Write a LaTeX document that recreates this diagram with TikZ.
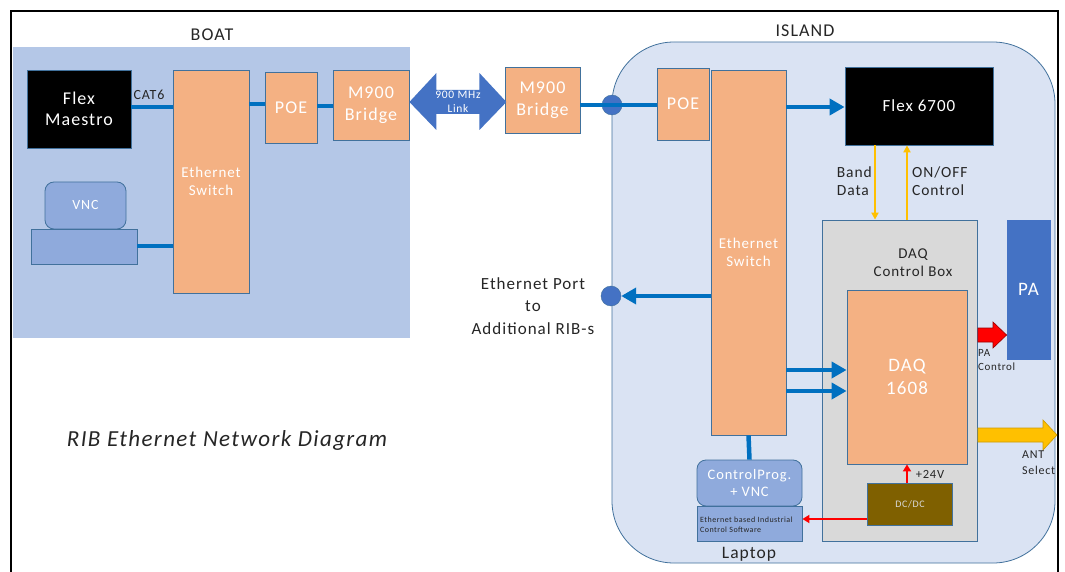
\documentclass[tikz,border=0pt]{standalone}
\usepackage{fontspec}
\setmainfont[LetterSpace=6]{Carlito}
\usetikzlibrary{arrows.meta,calc}
\definecolor{boatbg}{HTML}{B4C7E7}
\definecolor{islandbg}{HTML}{DAE3F3}
\definecolor{orng}{HTML}{F4B183}
\definecolor{edgeblue}{HTML}{41719C}
\definecolor{linkblue}{HTML}{0070C0}
\definecolor{lapblue}{HTML}{8FAADC}
\definecolor{pablue}{HTML}{4472C4}
\definecolor{gold}{HTML}{FFC000}
\definecolor{dcdc}{HTML}{7F6000}
\definecolor{graybox}{HTML}{D9D9D9}
\definecolor{txt}{HTML}{262626}
\newcommand{\fsz}[1]{\fontsize{#1}{1.2\dimexpr#1pt\relax}\selectfont}
\tikzset{
  box/.style={draw=edgeblue, line width=0.8pt, align=center, inner sep=0pt},
  orangebox/.style={box, fill=orng, text=white},
  blackbox/.style={box, fill=black, text=white},
  lapbox/.style={box, fill=lapblue},
  wire/.style={linkblue, line width=4.5pt},
  warrow/.style={wire, -{Triangle[length=15pt,width=16pt]}},
  yarrow/.style={gold, line width=2.2pt, -{Triangle[length=7pt,width=7pt]}},
  rarrow/.style={red, line width=2.2pt, -{Triangle[length=7pt,width=8pt]}},
  lbl/.style={text=txt, align=center, inner sep=0pt},
  dot/.style={circle, fill=pablue, draw=edgeblue, minimum size=20pt, inner sep=0pt},
}
\begin{document}
\begin{tikzpicture}[x=1pt,y=-1pt]
\useasboundingbox (0,0) rectangle (1065,572);
\fill[white] (0,0) rectangle (1065,572);
% regions
\fill[boatbg] (13,47) rectangle (410,338);
\draw[edgeblue, line width=0.8pt, fill=islandbg, rounded corners=62pt] (612,42) rectangle (1055,563);
\draw[line width=2.5pt] (11,575) -- (11,11) -- (1058,11) -- (1058,575);
\node[lbl, font=\fsz{18}] (boatlbl) at (212,35) {BOAT};
\node[lbl, font=\fsz{18}] (islandlbl) at (805,31) {ISLAND};

% boat nodes
\node[blackbox, minimum width=104pt, minimum height=78pt, font=\fsz{18}] (fm) at (79,109) {Flex\\[-1pt]Maestro};
\node[orangebox, minimum width=76pt, minimum height=223pt, font=\fsz{15}] (bsw) at (211,181.5) {Ethernet\\Switch};
\node[orangebox, minimum width=52pt, minimum height=71pt, font=\fsz{18}] (bpoe) at (291,107.5) {POE};
\node[orangebox, minimum width=76pt, minimum height=70pt, font=\fsz{18}] (bbr) at (371,105) {M900\\Bridge};
\node[lapbox, rounded corners=9pt, minimum width=81pt, minimum height=47pt, text=white, font=\fsz{14}] (vncm) at (85.5,205.5) {VNC};
\node[lapbox, minimum width=106pt, minimum height=35pt] (vncb) at (84,246.5) {};
\node[lbl, font=\fsz{14}] (cat6) at (149,95) {CAT6};
\draw[wire] (fm.east |- 0,107) -- (bsw.west |- 0,107);
\draw[wire] (bsw.east |- 0,104) -- (bpoe.west |- 0,104);
\draw[wire] (bpoe.east |- 0,106) -- (bbr.west |- 0,106);
\draw[wire] (vncb.east |- 0,246) -- (bsw.west |- 0,246);

% island nodes
\node[orangebox, minimum width=75pt, minimum height=66pt, font=\fsz{18}] (ibr) at (542.5,100) {M900\\Bridge};
\node[orangebox, minimum width=52pt, minimum height=72pt, font=\fsz{18}] (ipoe) at (683,104) {POE};
\node[orangebox, minimum width=75pt, minimum height=365pt, font=\fsz{15}] (isw) at (748.5,252.5) {Ethernet\\Switch};
\node[blackbox, minimum width=148pt, minimum height=78pt, font=\fsz{17}] (flex) at (919,106) {Flex 6700};
\node[box, fill=graybox, minimum width=155pt, minimum height=321pt] (daqbox) at (900,380.5) {};
\node[lbl, font=\fsz{15}] (daqlbl) at (913,263) {DAQ\\Control Box};
\node[orangebox, minimum width=120pt, minimum height=174pt, font=\fsz{19}] (daq) at (907,377) {DAQ\\1608};
\node[box, fill=pablue, draw=pablue, minimum width=43pt, minimum height=139pt, text=white, font=\fsz{19}] (pa) at (1028.5,289.5) {PA};
\node[box, fill=dcdc, draw=edgeblue, minimum width=85pt, minimum height=42pt, text=graybox, font=\fsz{10}] (dc) at (910,504) {DC/DC};
\node[lapbox, rounded corners=9pt, minimum width=105pt, minimum height=46pt, text=white, font=\fsz{14.5}] (lapt) at (749.5,483) {ControlProg.\\+ VNC};
\node[lapbox, minimum width=105pt, minimum height=35pt] (lapb) at (749.5,523.5) {};
\node[lbl, anchor=west, align=left, font=\fsz{8}] (lapbt) at (700,524.5) {Ethernet based Industrial\\Control Software};
\node[lbl, font=\fsz{17.5}] (laplbl) at (749,554) {Laptop};
\node[dot] (jn) at (612,105) {};
\node[dot] (port) at (611,296) {};
\node[lbl, font=\fsz{17}] (portlbl) at (533,306) {Ethernet Port\\[2pt]to\\[2pt]Additional RIB-s};

% 900 MHz link double arrow
\fill[pablue] (bbr.east |- 0,102) -- ++(27,-29) -- ++(0,17) -- ++(43,0) -- ++(0,-17) -- ++(27,29)
  -- ++(-27,28) -- ++(0,-16) -- ++(-43,0) -- ++(0,16) -- cycle;
\node[lbl, text=white, font=\fsz{11.5}] (linklbl) at (458,102) {900 MHz\\Link};

% island wires
\draw[wire] (ibr.east |- 0,105) -- (jn.center) -- (ipoe.west |- 0,105);
\draw[warrow] (isw.east |- 0,107) -- (flex.west |- 0,107);
\draw[warrow] (isw.west |- 0,296) -- (port.east);
\draw[warrow] (isw.east |- 0,370) -- (daq.west |- 0,370);
\draw[warrow] (isw.east |- 0,391) -- (daq.west |- 0,391);
\draw[wire] (isw.south) -- (lapt.north);

% yellow control arrows
\draw[yarrow] (flex.south -| 875,0) -- (daqbox.north -| 875,0);
\draw[yarrow] (daqbox.north -| 907,0) -- (flex.south -| 907,0);
\node[lbl, font=\fsz{15.5}, align=left, anchor=east] (bandlbl) at (872,181) {Band\\Data};
\node[lbl, font=\fsz{15.5}, align=left, anchor=west] (onofflbl) at (912,181) {ON/OFF\\Control};

% PA control red block arrow
\draw[draw=red!60!black, line width=0.6pt, fill=red] (daqbox.east |- 0,328) -- (993,328) -- (993,322) -- (pa.west |- 0,335) -- (993,348) -- (993,342) -- (daqbox.east |- 0,342) -- cycle;
\node[lbl, font=\fsz{11}, align=left, anchor=north west] (palbl) at (978,349) {PA\\[1pt]Control};
% ANT select yellow block arrow
\draw[draw=gold!80!black, line width=0.6pt, fill=gold] (daqbox.east |- 0,428) -- (1043,428) -- (1043,420) -- (1057,435) -- (1043,450) -- (1043,442) -- (daqbox.east |- 0,442) -- cycle;
\node[lbl, font=\fsz{12}, align=left, anchor=north west] (antlbl) at (1022,451) {ANT\\[1pt]Select};

% power
\draw[rarrow] (dc.north -| 907,0) -- (daq.south -| 907,0);
\node[lbl, font=\fsz{12.5}] (v24) at (930,474) {+24V};
\draw[rarrow] (dc.west |- 0,519) -- (lapb.east |- 0,519);

% title
\node[lbl, font=\fsz{23}\itshape] (title) at (227,440) {RIB Ethernet Network Diagram};
\end{tikzpicture}
\end{document}
